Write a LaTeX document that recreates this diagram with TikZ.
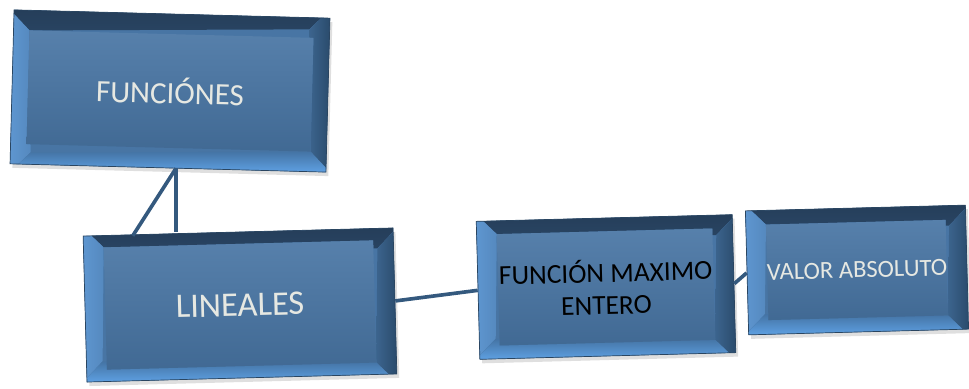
\documentclass[tikz,border=0pt]{standalone}
\usepackage{fontspec}
\setmainfont{Carlito}
\usetikzlibrary{calc,shadows}

\definecolor{panelface}{HTML}{4875A4}
\definecolor{paneltop}{HTML}{253E5A}
\definecolor{panelleft}{HTML}{5E96D0}
\definecolor{panelright}{HTML}{2A4B6C}
\definecolor{panelbottom}{HTML}{5EA0E2}
\definecolor{panelline}{HTML}{2A4560}
\definecolor{linkline}{HTML}{34597E}
\definecolor{lighttext}{HTML}{E6E8E2}

\newlength{\bevw}
\setlength{\bevw}{0.5cm}

\tikzset{
  panel/.style={draw=panelline, line width=0.5pt, fill=panelface, inner sep=0pt, align=center,
    drop shadow={opacity=0.25, shadow xshift=0.06cm, shadow yshift=-0.1cm},
    path picture={
      \fill[top color=paneltop, bottom color=panelface!75!paneltop]
        (path picture bounding box.north west) -- (path picture bounding box.north east)
        -- ([shift={(-\bevw,-\bevw)}]path picture bounding box.north east)
        -- ([shift={(\bevw,-\bevw)}]path picture bounding box.north west) -- cycle;
      \fill[left color=panelleft, right color=panelleft!60!panelface]
        (path picture bounding box.north west) -- ([shift={(\bevw,-\bevw)}]path picture bounding box.north west)
        -- ([shift={(\bevw,\bevw)}]path picture bounding box.south west)
        -- (path picture bounding box.south west) -- cycle;
      \fill[right color=panelright, left color=panelface!60!panelright]
        (path picture bounding box.north east) -- ([shift={(-\bevw,-\bevw)}]path picture bounding box.north east)
        -- ([shift={(-\bevw,\bevw)}]path picture bounding box.south east)
        -- (path picture bounding box.south east) -- cycle;
      \fill[bottom color=panelbottom, top color=panelbottom!55!paneltop]
        (path picture bounding box.south west) -- (path picture bounding box.south east)
        -- ([shift={(-\bevw,\bevw)}]path picture bounding box.south east)
        -- ([shift={(\bevw,\bevw)}]path picture bounding box.south west) -- cycle;
      \fill[top color=panelface!92!white, bottom color=panelface!90!black]
        ([shift={(\bevw,-\bevw)}]path picture bounding box.north west)
        rectangle ([shift={(-\bevw,\bevw)}]path picture bounding box.south east);
    }},
  link/.style={draw=linkline, line width=2.6pt}
}

\begin{document}
\begin{tikzpicture}
\useasboundingbox (0,0) rectangle (24.225,9.7);

\node[panel, minimum width=7.9cm, minimum height=3.85cm, rotate=-1.5, text=lighttext, font=\fontsize{22}{26}\selectfont] (fun) at (4.25,7.425) {FUNCIÓNES};
\node[panel, minimum width=7.75cm, minimum height=3.65cm, rotate=1.5, text=lighttext, font=\fontsize{24.5}{28}\selectfont] (lin) at (6.0,2.075) {LINEALES};
\node[panel, minimum width=6.4cm, minimum height=3.45cm, rotate=1.5, text=black, font=\fontsize{19.5}{23}\selectfont] (max) at (15.15,2.525) {FUNCIÓN MAXIMO\\ENTERO};
\node[panel, minimum width=5.5cm, minimum height=3.1cm, rotate=1.5, text=lighttext, font=\fontsize{17.5}{21}\selectfont] (val) at (21.425,2.95) {VALOR ABSOLUTO};

% connectors
\coordinate (fork) at ([xshift=0.2cm]fun.south);
\draw[link] (fork) -- ([xshift=1.25cm]lin.north west);
\draw[link] (fork) -- (lin.north -| fork);
\draw[link] (lin.east) -- (max.west);
\draw[link] (max.east) -- (val.west);
\end{tikzpicture}
\end{document}
